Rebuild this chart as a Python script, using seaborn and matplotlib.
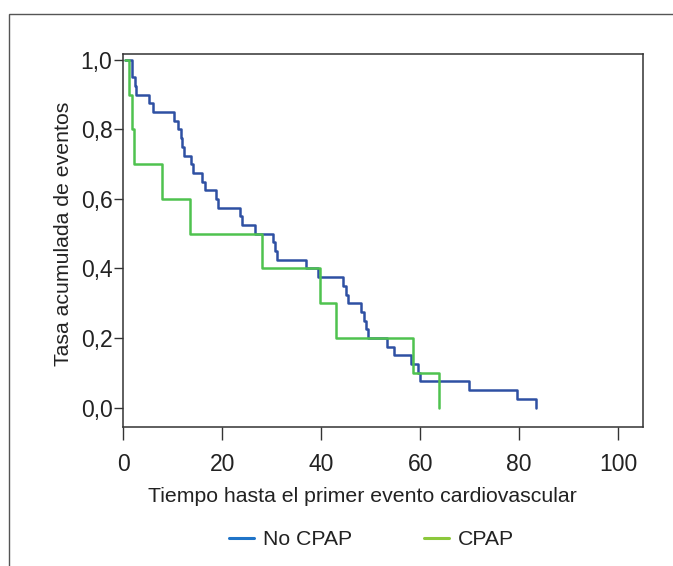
import numpy as np
import pandas as pd
import matplotlib
matplotlib.use('Agg')
import matplotlib.pyplot as plt
from matplotlib.lines import Line2D
from matplotlib.patches import Rectangle
import seaborn as sns

# Kaplan-Meier style step data
no_cpap_time = [0.4, 1.8, 2.3, 2.6, 5.2, 6.0, 10.2, 11.0, 11.6, 11.9, 12.2,
                13.7, 14.1, 15.8, 16.4, 18.8, 19.1, 23.5, 24.0, 26.5, 30.2,
                30.6, 31.0, 37.0, 39.3, 44.4, 45.0, 45.3, 48.1, 48.6, 49.0,
                49.5, 53.3, 54.8, 58.2, 59.6, 60.0, 69.9, 79.6, 83.5]
no_cpap_value = [1.0, 0.95, 0.925, 0.9, 0.875, 0.85, 0.825, 0.8, 0.775, 0.75,
                 0.725, 0.7, 0.675, 0.65, 0.625, 0.6, 0.575, 0.55, 0.525, 0.5,
                 0.475, 0.45, 0.425, 0.4, 0.375, 0.35, 0.325, 0.3, 0.275, 0.25,
                 0.225, 0.2, 0.175, 0.15, 0.125, 0.1, 0.075, 0.05, 0.025, 0.0]

cpap_time = [0.4, 1.1, 1.7, 2.1, 7.8, 13.4, 28.0, 39.8, 42.9, 58.5, 63.8]
cpap_value = [1.0, 0.9, 0.8, 0.7, 0.6, 0.5, 0.4, 0.3, 0.2, 0.1, 0.0]

groups = ["No CPAP", "CPAP"]
curve_colors = {"No CPAP": "#2e50a3", "CPAP": "#4fc24f"}
legend_colors = {"No CPAP": "#1f74c8", "CPAP": "#8cc83c"}

x_ticks = [0, 20, 40, 60, 80, 100]
y_ticks = [0.0, 0.2, 0.4, 0.6, 0.8, 1.0]
y_ticklabels = ["0,0", "0,2", "0,4", "0,6", "0,8", "1,0"]

df = pd.concat([
    pd.DataFrame({"tiempo": no_cpap_time, "tasa": no_cpap_value, "grupo": "No CPAP"}),
    pd.DataFrame({"tiempo": cpap_time, "tasa": cpap_value, "grupo": "CPAP"}),
], ignore_index=True)

sns.set_style("white")
plt.rcParams['font.family'] = ['Liberation Sans', 'DejaVu Sans']

fig = plt.figure(figsize=(6.73, 5.66), dpi=100)
ax = fig.add_axes([0.1835, 0.2456, 0.7715, 0.659])

# outer frame of the figure panel
fig.patches.append(Rectangle((0.0134, -0.2), 1.2, 0.9753 + 0.2, transform=fig.transFigure,
                             fill=False, edgecolor="#555555", lw=1.0))

sns.lineplot(data=df, x="tiempo", y="tasa", hue="grupo", hue_order=groups,
             palette=curve_colors, drawstyle="steps-post", lw=1.8,
             estimator=None, sort=False, legend=False, ax=ax)

ax.set_xlim(0, 105)
ax.set_ylim(-0.056, 1.017)
ax.set_xticks(x_ticks)
ax.set_xticklabels([str(t) for t in x_ticks])
ax.set_yticks(y_ticks)
ax.set_yticklabels(y_ticklabels)
ax.tick_params(axis="x", length=9.5, width=1.0, color="#333333", labelsize=16.5,
               pad=9, bottom=True, labelcolor="#222222")
ax.tick_params(axis="y", length=6.5, width=1.0, color="#333333", labelsize=16.5,
               pad=1.5, left=True, labelcolor="#222222")
for s in ax.spines.values():
    s.set_color("#333333")
    s.set_linewidth(1.1)

ax.set_xlabel("Tiempo hasta el primer evento cardiovascular", fontsize=15.3,
              color="#222222")
ax.xaxis.set_label_coords(0.461, -0.16)
ax.set_ylabel("Tasa acumulada de eventos", fontsize=15.3, color="#222222")
ax.yaxis.set_label_coords(-0.097, 0.517)

handles = [Line2D([0], [0], color=legend_colors[g], lw=2.2) for g in groups]
fig.legend(handles, groups, loc="center", bbox_to_anchor=(0.552, 0.046), ncol=2,
           frameon=False, fontsize=15.3, handlelength=1.18, handletextpad=0.42,
           columnspacing=3.4, labelcolor="#222222")

plt.savefig("out.png", dpi=100)
plt.close()
